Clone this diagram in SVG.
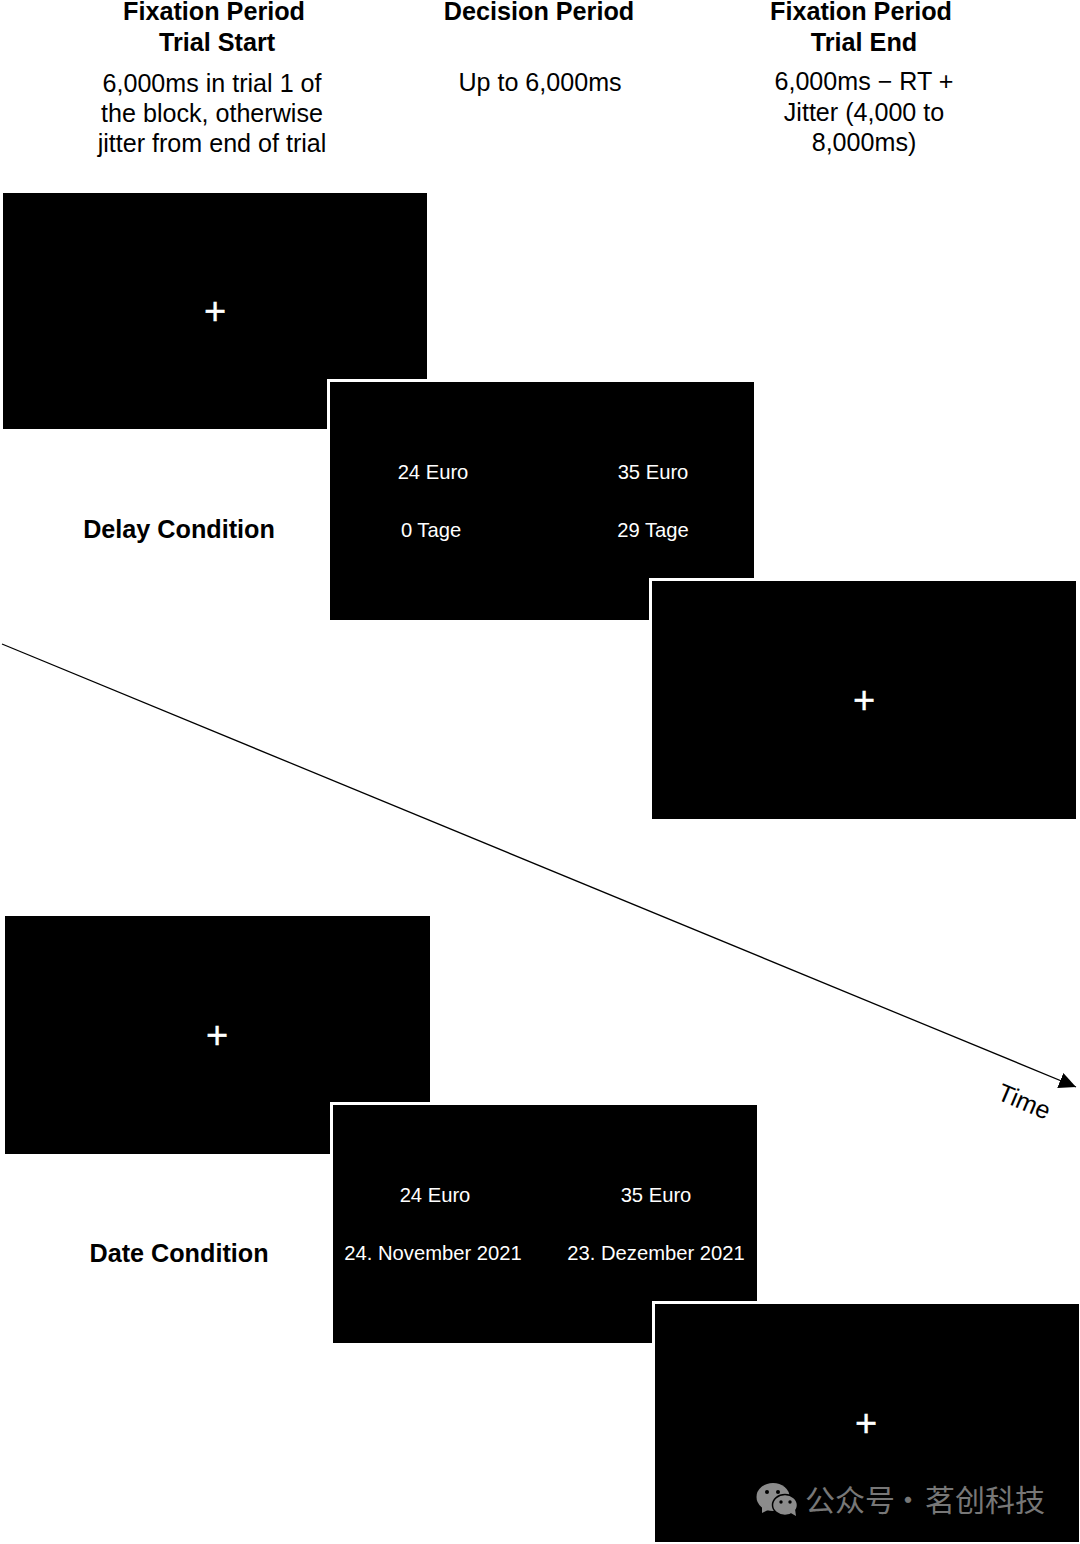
<svg xmlns="http://www.w3.org/2000/svg" width="1080" height="1544" viewBox="0 0 1080 1544">
<defs>
<marker id="arrow" markerUnits="userSpaceOnUse" markerWidth="20" markerHeight="20" refX="17" refY="8" orient="auto"><path d="M0 0L17 8L0 16Z" fill="#000"/></marker>
</defs>
<style>
text{font-family:"Liberation Sans",Arial,sans-serif;text-anchor:middle}
.h{font-size:25.2px;font-weight:700;fill:#000}
.s{font-size:25.1px;fill:#000}
.t{font-size:20.2px;fill:#fff}
.p{font-size:38px;fill:#fff;stroke:#fff;stroke-width:.4px}
.b{fill:#000;stroke:#fff;stroke-width:3}
.w{font-family:"Noto Sans CJK SC","Liberation Sans",sans-serif;font-size:30px;fill:#777;text-anchor:start}
</style>
<rect width="1080" height="1544" fill="#fff"/>
<g id="headers">
<text class="h" x="214" y="20">Fixation Period</text>
<text class="h" x="217" y="51">Trial Start</text>
<text class="s" x="212" y="92">6,000ms in trial 1 of</text>
<text class="s" x="212" y="122">the block, otherwise</text>
<text class="s" x="212" y="152">jitter from end of trial</text>
<text class="h" x="539" y="20">Decision Period</text>
<text class="s" x="540" y="91">Up to 6,000ms</text>
<text class="h" x="861" y="20">Fixation Period</text>
<text class="h" x="864" y="51">Trial End</text>
<text class="s" x="864" y="90">6,000ms − RT +</text>
<text class="s" x="864" y="121">Jitter (4,000 to</text>
<text class="s" x="864" y="151">8,000ms)</text>
</g>
<g id="delay-label"><text class="h" x="179" y="538">Delay Condition</text></g>
<g id="date-label"><text class="h" x="179" y="1262">Date Condition</text></g>
<g id="delay-fix-start"><rect x="3" y="193" width="424" height="236" fill="#000"/><text class="p" x="215" y="324">+</text></g>
<g id="delay-decision"><rect class="b" x="328.500" y="380.500" width="427" height="241"/>
<text class="t" x="433" y="479">24 Euro</text><text class="t" x="653" y="479">35 Euro</text>
<text class="t" x="431" y="537">0 Tage</text><text class="t" x="653" y="537">29 Tage</text></g>
<g id="delay-fix-end"><rect class="b" x="650.500" y="579.500" width="427" height="241"/><text class="p" x="864" y="713">+</text></g>
<g id="date-fix-start"><rect x="5" y="916" width="425" height="238" fill="#000"/><text class="p" x="217" y="1048">+</text></g>
<g id="date-decision"><rect class="b" x="331.500" y="1103.500" width="427" height="241"/>
<text class="t" x="435" y="1202">24 Euro</text><text class="t" x="656" y="1202">35 Euro</text>
<text class="t" x="433" y="1260">24. November 2021</text><text class="t" x="656" y="1260">23. Dezember 2021</text></g>
<g id="date-fix-end"><rect class="b" x="653.500" y="1302.500" width="427" height="241"/><text class="p" x="866" y="1436">+</text></g>
<g id="connectors"><line x1="2" y1="644" x2="1076" y2="1087" stroke="#000" stroke-width="1.300" marker-end="url(#arrow)"/></g>
<g id="time-label"><text x="1024" y="1110" font-size="25" transform="rotate(23 1024 1102)" fill="#000">Time</text></g>
<g id="watermark">
<ellipse cx="773" cy="1497" rx="16.500" ry="14" fill="#8c8c8c"/><path d="M762 1506l0 7 8-4z" fill="#8c8c8c"/>
<ellipse cx="785" cy="1505" rx="12.500" ry="10.500" fill="#8c8c8c" stroke="#000" stroke-width="1.500"/><path d="M789 1512l7 4-1-7z" fill="#8c8c8c"/>
<circle cx="767" cy="1492" r="2" fill="#000"/><circle cx="778" cy="1492" r="2" fill="#000"/><circle cx="781" cy="1502" r="1.700" fill="#000"/><circle cx="790" cy="1502" r="1.700" fill="#000"/>
<text class="w" x="805" y="1511">公众号<tspan x="893">·</tspan><tspan x="925">茗创科技</tspan></text></g>
</svg>
